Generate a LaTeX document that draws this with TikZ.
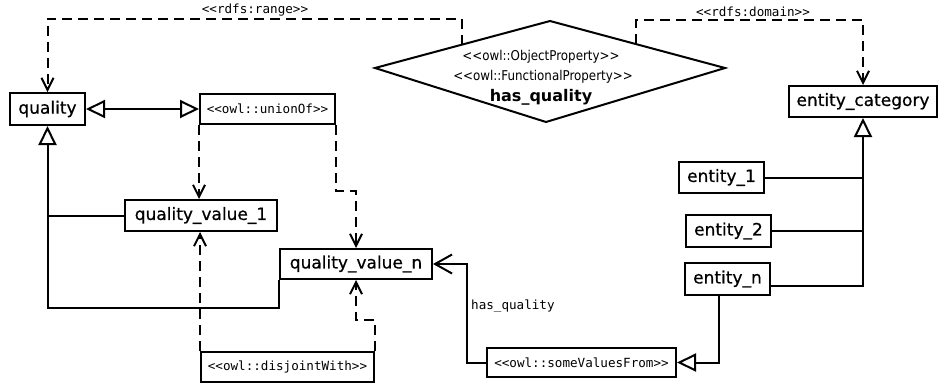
\documentclass[tikz,border=0pt]{standalone}
\usepackage{fontspec}
\setmainfont{DejaVu Sans}
\newfontfamily\namefam{DejaVu Sans}[FakeBold=0.6]
\newfontfamily\monofont{DejaVu Sans Mono}
\newfontfamily\condfont{DejaVu Sans}[FakeStretch=0.88]
\usetikzlibrary{arrows.meta,calc}
\newcommand{\namefont}{\namefam\fontsize{17}{20}\selectfont}
\newcommand{\stereofont}{\monofont\fontsize{12.6}{15}\selectfont}
\newcommand{\diafont}{\condfont\fontsize{13.5}{16}\selectfont}
\tikzset{
  box/.style={draw, line width=2pt, inner sep=0pt, font=\namefont},
  sbox/.style={draw, line width=2pt, inner sep=0pt, font=\stereofont},
  dep/.style={line width=2pt, dash pattern=on 10pt off 6pt,
    -{Straight Barb[length=12pt,width=12pt,line width=2pt]}},
  gen/.style={line width=2pt, -{Triangle[open,length=19pt,width=18pt,line width=2pt]}},
  plain/.style={line width=2pt},
  assoc/.style={line width=2pt, -{Straight Barb[length=17pt,width=19pt,line width=2pt]}},
  lbl/.style={inner sep=0pt, font=\stereofont}
}
\begin{document}
\begin{tikzpicture}[x=1pt,y=-1pt]
\useasboundingbox (0,0) rectangle (938,383);
% nodes
\node[box, minimum width=75pt, minimum height=32pt] (quality) at (47.5,109) {quality};
\node[sbox, minimum width=135pt, minimum height=30pt] (union) at (267.5,109) {<<owl::unionOf>>};
\node[box, minimum width=152pt, minimum height=31pt] (qv1) at (201,215.5) {quality\_value\_1};
\node[box, minimum width=152pt, minimum height=30pt] (qvn) at (356,264) {quality\_value\_n};
\node[sbox, minimum width=173pt, minimum height=30pt] (dis) at (287.5,367) {<<owl::disjointWith>>};
\node[sbox, minimum width=189pt, minimum height=29pt] (svf) at (581.5,362.5) {<<owl::someValuesFrom>>};
\node[box, minimum width=148pt, minimum height=31pt] (ec) at (863,101.5) {entity\_category};
\node[box, minimum width=85pt, minimum height=31pt] (e1) at (721.5,177.5) {entity\_1};
\node[box, minimum width=85pt, minimum height=32pt] (e2) at (728.5,231) {entity\_2};
\node[box, minimum width=85pt, minimum height=32pt] (en) at (727.5,279) {entity\_n};
% diamond
\coordinate (dl) at (375,68);
\coordinate (dt) at (550,21);
\coordinate (dr) at (725,68);
\coordinate (db) at (546,122);
\draw[plain, line join=miter] (dl) -- (dt) -- (dr) -- (db) -- cycle;
\node[inner sep=0pt, font=\diafont] (hq1) at (541,57) {<<owl::ObjectProperty>>};
\node[inner sep=0pt, font=\diafont] (hq2) at (543,77) {<<owl::FunctionalProperty>>};
\node[inner sep=0pt, font=\bfseries\fontsize{16}{19}\selectfont] (hq) at (541,97) {has\_quality};
\coordinate (rs) at ($(dl)!0.497!(dt)$);
\coordinate (ds) at ($(dt)!0.491!(dr)$);
% range / domain
\draw[dep] (rs) -- ++(0,-26) -| (quality.north);
\node[lbl] (rl) at (255,10) {<<rdfs:range>>};
\draw[dep] (ds) -- ++(0,-24) -| (ec.north);
\node[lbl] (dlb) at (753,12) {<<rdfs:domain>>};
% quality <-> unionOf
\draw[line width=2pt, {Triangle[open,length=19pt,width=18pt,line width=2pt]}-{Triangle[open,length=19pt,width=18pt,line width=2pt]}] (quality.east) -- (union.west);
% unionOf members
\draw[dep] (union.south west) -- (union.south west |- qv1.north);
\draw[dep] (union.south east) -- ++(0,66) -| (qvn.north);
% disjointWith
\draw[dep] (dis.north west) -- (dis.north west |- qv1.south);
\draw[dep] (dis.north east) -- ++(0,-31) -| (qvn.south);
% subclasses of quality
\draw[plain] (qv1.west) -- (qv1.west -| quality.south);
\draw[gen] (qvn.south west) -- ++(0,28) -| (quality.south);
% entities
\draw[plain] (e1.east) -- (e1.east -| ec.south);
\draw[plain] (e2.east) -- (e2.east -| ec.south);
\draw[gen] ([yshift=-7pt]en.east) -| (ec.south);
\draw[gen] ([xshift=-8.5pt]en.south) |- (svf.east);
% has_quality
\draw[assoc] (svf.west) -- ++(-19,0) |- (qvn.east);
\node[lbl, anchor=west] (hql) at (471,306) {has\_quality};
\end{tikzpicture}
\end{document}
